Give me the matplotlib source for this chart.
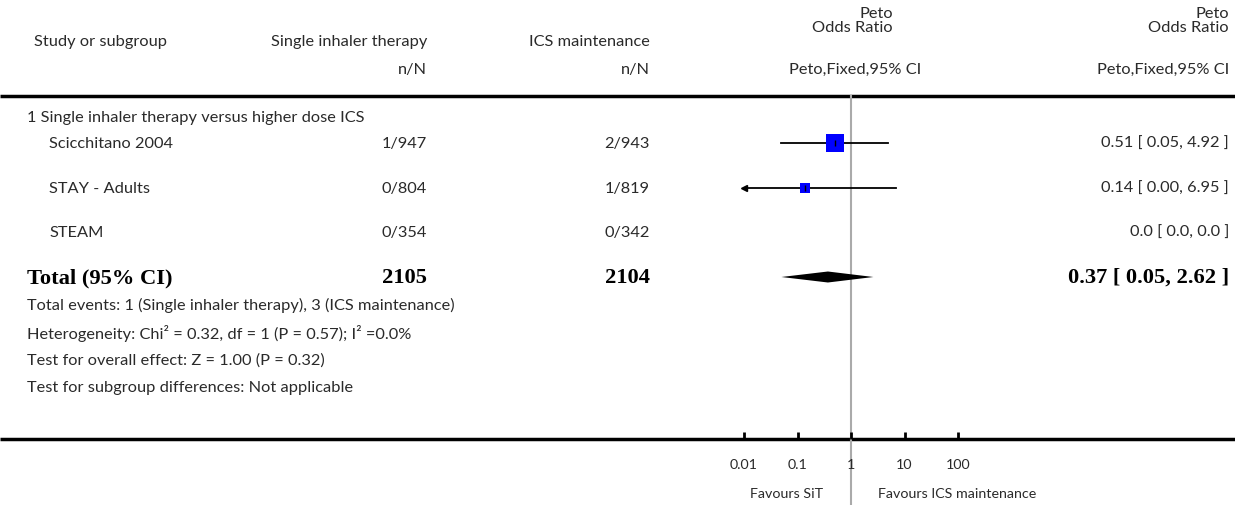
import matplotlib.pyplot as plt
import numpy as np

# data
subgroup = "1 Single inhaler therapy versus higher dose ICS"
studies = ["Scicchitano 2004", "STAY - Adults", "STEAM"]
sit_nN = ["1/947", "0/804", "0/354"]
ics_nN = ["2/943", "1/819", "0/342"]
odds = [0.51, 0.14, None]
ci_lo = [0.05, 0.00, None]
ci_hi = [4.92, 6.95, None]
weights = [75.0, 25.0, 0.0]
or_text = ["0.51 [ 0.05, 4.92 ]", "0.14 [ 0.00, 6.95 ]", "0.0 [ 0.0, 0.0 ]"]
total_sit = "2105"
total_ics = "2104"
total_or = 0.37
total_lo = 0.05
total_hi = 2.62
total_text = "0.37 [ 0.05, 2.62 ]"
footer = ["Total events: 1 (Single inhaler therapy), 3 (ICS maintenance)",
          "Heterogeneity: Chi\u00b2 = 0.32, df = 1 (P = 0.57); I\u00b2 =0.0%",
          "Test for overall effect: Z = 1.00 (P = 0.32)",
          "Test for subgroup differences: Not applicable"]
ticks = [0.01, 0.1, 1, 10, 100]
tick_labels = ["0.01", "0.1", "1", "10", "100"]

W, H = 1235, 506
fig = plt.figure(figsize=(W / 100, H / 100), dpi=100)
plt.rcParams['font.family'] = ['Lato', 'DejaVu Sans']

# background axes in pixel coordinates for the table text
bg = fig.add_axes([0, 0, 1, 1])
bg.set_xlim(0, W)
bg.set_ylim(H, 0)
bg.axis('off')

fs = 11.8
tc = '#2a2a2a'
# header
bg.text(34, 42, "Study or subgroup", fontsize=fs, color=tc, va='center')
bg.text(427, 42, "Single inhaler therapy", fontsize=fs, color=tc, va='center', ha='right')
bg.text(650, 42, "ICS maintenance", fontsize=fs, color=tc, va='center', ha='right')
bg.text(427, 70, "n/N", fontsize=fs, color=tc, va='center', ha='right')
bg.text(650, 70, "n/N", fontsize=fs, color=tc, va='center', ha='right')
bg.text(893, 21, "Peto\nOdds Ratio", fontsize=fs, color=tc, va='center', ha='right',
        multialignment='right', linespacing=1.05)
bg.text(1229, 21, "Peto\nOdds Ratio", fontsize=fs, color=tc, va='center', ha='right',
        multialignment='right', linespacing=1.05)
bg.text(921, 70, "Peto,Fixed,95% CI", fontsize=fs, color=tc, va='center', ha='right')
bg.text(1229, 70, "Peto,Fixed,95% CI", fontsize=fs, color=tc, va='center', ha='right')
bg.plot([0, W], [97, 97], color='black', lw=2.5, solid_capstyle='butt')
bg.plot([0, W], [440, 440], color='black', lw=2.5, solid_capstyle='butt')

bg.text(27, 118, subgroup, fontsize=fs, color=tc, va='center')
row_y = [144, 189, 233]
for i, name in enumerate(studies):
    y = row_y[i]
    bg.text(49, y, name, fontsize=fs, color=tc, va='center')
    bg.text(427, y, sit_nN[i], fontsize=fs, color=tc, va='center', ha='right')
    bg.text(650, y, ics_nN[i], fontsize=fs, color=tc, va='center', ha='right')
    bg.text(1229, y, or_text[i], fontsize=fs, color=tc, va='center', ha='right')

ty = 278
bfont = dict(family='Liberation Serif', fontweight='bold', fontsize=16.2, va='center')
bg.text(27, ty, "Total (95% CI)", **bfont)
bg.text(427, ty, total_sit, ha='right', **bfont)
bg.text(650, ty, total_ics, ha='right', **bfont)
bg.text(1229, ty, total_text, ha='right', **bfont)

foot_y = [305, 333, 361, 388]
for y, t in zip(foot_y, footer):
    bg.text(27, y, t, fontsize=fs, color=tc, va='center')

bg.text(823, 494, "Favours SiT", fontsize=fs - 1.5, color=tc, va='center', ha='right')
bg.text(878, 494, "Favours ICS maintenance", fontsize=fs - 1.5, color=tc, va='center', ha='left')

# forest axes: 0.01..100 maps to x pixels 744..958, y in pixels
x0, x1 = 744, 958
ax = fig.add_axes([x0 / W, 0, (x1 - x0) / W, 1])
ax.set_xscale('log')
ax.set_xlim(0.01, 100)
ax.set_ylim(H, 0)
ax.patch.set_alpha(0)
for s in ax.spines.values():
    s.set_visible(False)
ax.set_yticks([])

ax.plot([1, 1], [97, 506], color='#aaaaaa', lw=1.5, zorder=1, clip_on=False)
for i in range(len(studies)):
    if odds[i] is None:
        continue
    y = row_y[i]
    lo = max(ci_lo[i], 0.01)
    ax.plot([lo, ci_hi[i]], [y, y], color='black', lw=1.3, zorder=2)
    if ci_lo[i] < 0.01:
        ax.plot([0.01], [y], marker='<', color='black', markersize=4, zorder=3, clip_on=False)
    ax.plot([odds[i]], [y], marker='s', color='#0000ff', markersize=1.5 * np.sqrt(weights[i]),
            markeredgewidth=0, zorder=3)
    ax.plot([odds[i]], [y], marker='|', color='black', markersize=4, zorder=4)

ax.fill([total_lo, total_or, total_hi, total_or], [ty, ty - 5.5, ty, ty + 5.5],
        color='black', zorder=3, lw=0)

ax.set_xticks(ticks)
ax.set_xticklabels(tick_labels)
ax.minorticks_off()
ax.xaxis.set_ticks_position('bottom')
ax.spines['bottom'].set_position(('data', 440))
ax.tick_params(axis='x', direction='in', length=5, width=2, pad=14, labelsize=fs - 1.5,
               labelcolor=tc)

fig.savefig('out.png', dpi=100)
